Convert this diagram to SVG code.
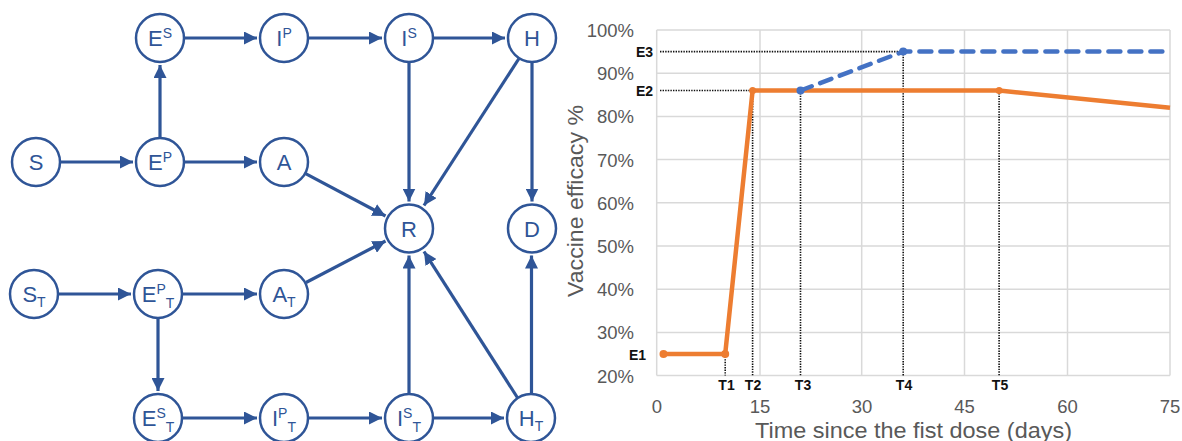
<svg xmlns="http://www.w3.org/2000/svg" width="1182" height="441" viewBox="0 0 1182 441">
<style>
.node circle{fill:#fff;stroke:#2F5597;stroke-width:2.5}
.node text{font-family:"Liberation Sans",Arial,sans-serif;font-size:22px;fill:#2F5597;text-anchor:middle}
.sm{font-size:14px}
.conn line{stroke:#2F5597;stroke-width:3.2}
.grid line{stroke:#D9D9D9;stroke-width:1.5}
.dot{stroke:#111;stroke-width:1.6;stroke-dasharray:1.4,1.2;fill:none}
.tick{font-family:"Liberation Sans",Arial,sans-serif;font-size:18.5px;fill:#595959}
.lab{font-family:"Liberation Sans",Arial,sans-serif;font-size:14px;font-weight:bold;fill:#111}
</style>
<defs>
<marker id="ah" markerUnits="userSpaceOnUse" markerWidth="14" markerHeight="13" refX="13" refY="6.5" orient="auto">
<path d="M0,0 L13,6.5 L0,13 z" fill="#2F5597"/>
</marker>
</defs>
<rect width="1182" height="441" fill="#fff"/>

<g id="connectors" class="conn">
<line x1="60.5" y1="162" x2="133" y2="162" marker-end="url(#ah)"/>
<line x1="160" y1="138" x2="160" y2="65" marker-end="url(#ah)"/>
<line x1="184.5" y1="38" x2="257" y2="38" marker-end="url(#ah)"/>
<line x1="308.5" y1="38" x2="382" y2="38" marker-end="url(#ah)"/>
<line x1="433.5" y1="38" x2="505" y2="38" marker-end="url(#ah)"/>
<line x1="184.5" y1="162" x2="257" y2="162" marker-end="url(#ah)"/>
<line x1="305.6" y1="173.6" x2="385.5" y2="216" marker-end="url(#ah)"/>
<line x1="409" y1="62.5" x2="409" y2="201.5" marker-end="url(#ah)"/>
<line x1="519" y1="58.5" x2="424" y2="205.5" marker-end="url(#ah)"/>
<line x1="532" y1="62.5" x2="532" y2="201.5" marker-end="url(#ah)"/>
<line x1="58.5" y1="294" x2="131" y2="294" marker-end="url(#ah)"/>
<line x1="182.5" y1="294" x2="257" y2="294" marker-end="url(#ah)"/>
<line x1="158" y1="318" x2="158" y2="391" marker-end="url(#ah)"/>
<line x1="182.5" y1="418" x2="257" y2="418" marker-end="url(#ah)"/>
<line x1="308.5" y1="418" x2="382" y2="418" marker-end="url(#ah)"/>
<line x1="433.5" y1="418" x2="504" y2="418" marker-end="url(#ah)"/>
<line x1="306" y1="282.5" x2="385.5" y2="241" marker-end="url(#ah)"/>
<line x1="409" y1="394" x2="409" y2="255.5" marker-end="url(#ah)"/>
<line x1="518" y1="398.5" x2="424" y2="251.5" marker-end="url(#ah)"/>
<line x1="531.5" y1="394" x2="531.5" y2="255.5" marker-end="url(#ah)"/>
</g>

<g id="S" class="node"><circle cx="36" cy="162" r="24"/><text x="36" y="170">S</text></g>
<g id="EP" class="node"><circle cx="160" cy="162" r="24"/><text x="160" y="170">E<tspan class="sm" dy="-8">P</tspan></text></g>
<g id="ES" class="node"><circle cx="160" cy="38" r="24"/><text x="160" y="46">E<tspan class="sm" dy="-8">S</tspan></text></g>
<g id="IP" class="node"><circle cx="284" cy="38" r="24"/><text x="284" y="46">I<tspan class="sm" dy="-8">P</tspan></text></g>
<g id="IS" class="node"><circle cx="409" cy="38" r="24"/><text x="409" y="46">I<tspan class="sm" dy="-8">S</tspan></text></g>
<g id="H" class="node"><circle cx="532" cy="38" r="24"/><text x="532" y="46">H</text></g>
<g id="A" class="node"><circle cx="284" cy="162" r="24"/><text x="284" y="170">A</text></g>
<g id="R" class="node"><circle cx="409" cy="228.5" r="24"/><text x="409" y="236.5">R</text></g>
<g id="D" class="node"><circle cx="532" cy="228.5" r="24"/><text x="532" y="236.5">D</text></g>
<g id="ST" class="node"><circle cx="34" cy="294" r="24"/><text x="34" y="302">S<tspan class="sm" dy="5">T</tspan></text></g>
<g id="EPT" class="node"><circle cx="158" cy="294" r="24"/><text x="158" y="302">E<tspan class="sm" dy="-8">P</tspan><tspan class="sm" dy="14">T</tspan></text></g>
<g id="AT" class="node"><circle cx="284" cy="294" r="24"/><text x="284" y="302">A<tspan class="sm" dy="5">T</tspan></text></g>
<g id="EST" class="node"><circle cx="158" cy="418" r="24"/><text x="158" y="426">E<tspan class="sm" dy="-8">S</tspan><tspan class="sm" dy="14">T</tspan></text></g>
<g id="IPT" class="node"><circle cx="284" cy="418" r="24"/><text x="284" y="426">I<tspan class="sm" dy="-8">P</tspan><tspan class="sm" dy="14">T</tspan></text></g>
<g id="IST" class="node"><circle cx="409" cy="418" r="24"/><text x="409" y="426">I<tspan class="sm" dy="-8">S</tspan><tspan class="sm" dy="14">T</tspan></text></g>
<g id="HT" class="node"><circle cx="531" cy="418" r="24"/><text x="531" y="426">H<tspan class="sm" dy="5">T</tspan></text></g>

<g id="chart">
<g class="grid">
<line x1="656.7" y1="30" x2="1170" y2="30"/>
<line x1="656.7" y1="73.2" x2="1170" y2="73.2"/>
<line x1="656.7" y1="116.4" x2="1170" y2="116.4"/>
<line x1="656.7" y1="159.6" x2="1170" y2="159.6"/>
<line x1="656.7" y1="202.8" x2="1170" y2="202.8"/>
<line x1="656.7" y1="246" x2="1170" y2="246"/>
<line x1="656.7" y1="289.2" x2="1170" y2="289.2"/>
<line x1="656.7" y1="332.4" x2="1170" y2="332.4"/>
<line x1="656.7" y1="375.6" x2="1170" y2="375.6"/>
<line x1="656.7" y1="30" x2="656.7" y2="375.6"/>
<line x1="760" y1="30" x2="760" y2="375.6"/>
<line x1="861.7" y1="30" x2="861.7" y2="375.6"/>
<line x1="964.5" y1="30" x2="964.5" y2="375.6"/>
<line x1="1067.5" y1="30" x2="1067.5" y2="375.6"/>
<line x1="1170" y1="30" x2="1170" y2="375.6"/>
</g>
<g class="tick" text-anchor="end">
<text x="634" y="37">100%</text>
<text x="634" y="80">90%</text>
<text x="634" y="123">80%</text>
<text x="634" y="166.5">70%</text>
<text x="634" y="209.5">60%</text>
<text x="634" y="253">50%</text>
<text x="634" y="296">40%</text>
<text x="634" y="339">30%</text>
<text x="634" y="382.5">20%</text>
</g>
<g class="tick" text-anchor="middle">
<text x="657" y="413">0</text>
<text x="760" y="413">15</text>
<text x="862" y="413">30</text>
<text x="964.5" y="413">45</text>
<text x="1067.5" y="413">60</text>
<text x="1170" y="413">75</text>
</g>
<text x="913.5" y="438" font-family="Liberation Sans, Arial, sans-serif" font-size="22.5" fill="#595959" text-anchor="middle" textLength="317" lengthAdjust="spacingAndGlyphs">Time since the fist dose (days)</text>
<text transform="translate(583,201) rotate(-90)" font-family="Liberation Sans, Arial, sans-serif" font-size="22" fill="#595959" text-anchor="middle" textLength="192" lengthAdjust="spacingAndGlyphs">Vaccine efficacy %</text>

<g>
<path class="dot" d="M660,51.6 H903 M660,90.5 H752.6 M725.2,354 V375.6 M752.6,90.5 V375.6 M800.5,90.5 V375.6 M903.2,51.6 V375.6 M999.1,90.5 V375.6"/>
</g>
<polyline points="663.5,354 725.2,354 752.6,90.5 999.1,90.5 1170,107.8" fill="none" stroke="#ED7D31" stroke-width="4.5" stroke-linejoin="round"/>
<polyline points="800.5,90.5 903.2,51.6 1170,51.6" fill="none" stroke="#4472C4" stroke-width="4.5" stroke-dasharray="12,9" stroke-linecap="round"/>
<g fill="#ED7D31">
<circle cx="663.5" cy="354" r="4"/>
<circle cx="725.2" cy="354" r="4"/>
<circle cx="752.6" cy="90.5" r="3.5"/>
<circle cx="999.1" cy="90.5" r="3.5"/>
</g>
<g fill="#4472C4">
<circle cx="800.5" cy="90.5" r="4"/>
<circle cx="903.2" cy="51.6" r="4"/>
</g>
<g class="lab" text-anchor="end">
<text x="653" y="56.5">E3</text>
<text x="653" y="95.5">E2</text>
<text x="646" y="360">E1</text>
</g>
<g class="lab" text-anchor="middle">
<text x="726.5" y="390">T1</text>
<text x="753" y="390">T2</text>
<text x="803" y="390">T3</text>
<text x="904" y="390">T4</text>
<text x="1000" y="390">T5</text>
</g>
</g>
</svg>
